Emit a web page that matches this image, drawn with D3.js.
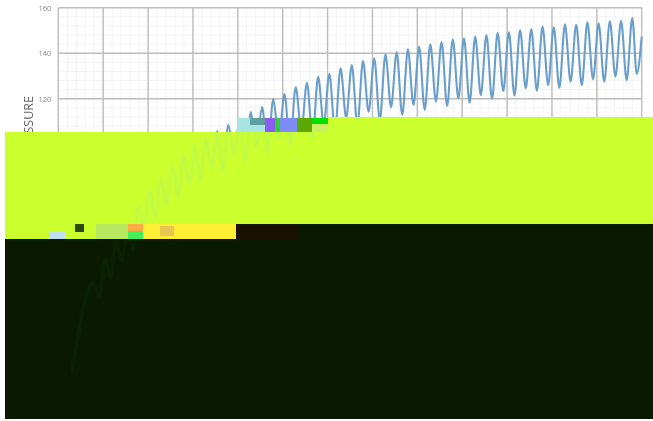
<!DOCTYPE html>
<html>
<head>
<meta charset="utf-8">
<script src="https://cdn.jsdelivr.net/npm/d3@7/dist/d3.min.js"></script>
<style>
html,body{margin:0;padding:0;background:#fff}
svg{display:block}
</style>
</head>
<body>
<svg id="chart" width="653" height="421"></svg>
<script>
// Values
const yTickValues = [0, 20, 40, 60, 80, 100, 120, 140, 160];
const xGridValues = [0, 1, 2, 3, 4, 5, 6, 7, 8, 9, 10, 11, 12, 13];
const axisTitle = "FOOT PRESSURE";

const peakTimes = [0.79,1.04,1.29,1.54,1.79,2.04,2.29,2.54,2.79,3.04,3.29,3.54,3.79,4.04,4.29,4.54,4.79,5.04,5.29,5.54,5.79,6.04,6.29,6.54,6.79,7.04,7.29,7.54,7.79,8.04,8.29,8.54,8.79,9.04,9.29,9.54,9.79,10.04,10.29,10.54,10.79,11.04,11.29,11.54,11.79,12.04,12.29,12.54,12.79];
const peakValues = [39.1,50.1,58,65,72.9,79.9,85.6,90.9,95.3,99.3,102.8,105.8,108.5,110.7,114.2,116.4,119.9,122.1,125.2,127,129.6,130.9,133.4,134.8,136.6,137.8,139.5,140.4,141.7,142.9,143.9,144.9,146.1,146.6,147.3,148,149,149.3,150.2,150.6,151.7,151.4,152.7,152.5,153.6,153.1,154,154.2,155.5];
const troughTimes = [0.915,1.165,1.415,1.665,1.915,2.165,2.415,2.665,2.915,3.165,3.415,3.665,3.915,4.165,4.415,4.665,4.915,5.165,5.415,5.665,5.915,6.165,6.415,6.665,6.915,7.165,7.415,7.665,7.915,8.165,8.415,8.665,8.915,9.165,9.415,9.665,9.915,10.165,10.415,10.665,10.915,11.165,11.415,11.665,11.915,12.165,12.415,12.665,12.89];
const troughValues = [32.5,41.3,48.3,53.6,61.5,67.6,73.4,76.9,83,83.9,89.6,88.3,95.3,92.2,98.8,95.7,102.3,99.3,105.9,102.8,108.9,105.9,111.6,108.5,114.3,110.7,116.3,112.9,117.3,115.1,118.7,116.8,120.2,118.3,121.7,119.9,123.4,121.4,124.6,123.5,126,124.8,127.5,126,128.6,127.5,129.7,128.2,130.9];
const startPoint = [0.3, 0];
const endPoint = [13, 147.3];

// Build the single trace: start, then peak/trough pairs, then end
const trace = [startPoint];
peakTimes.forEach((t, i) => {
  trace.push([t, peakValues[i]]);
  trace.push([troughTimes[i], troughValues[i]]);
});
trace.push(endPoint);

const svg = d3.select("#chart");
const x = d3.scaleLinear().domain([0, 13]).range([58.3, 641.7]);
const y = d3.scaleLinear().domain([0, 160]).range([372, 7.7]);

const chart = svg.append("g").style("filter", "blur(0.6px)");

// Minor grid
const minorX = d3.range(0, 13.001, 0.2);
const minorY = d3.range(0, 160.001, 4);
chart.append("g").selectAll("line").data(minorX).join("line")
  .attr("x1", d => x(d)).attr("x2", d => x(d))
  .attr("y1", y(160)).attr("y2", y(0))
  .attr("stroke", "#f0f0f0").attr("stroke-width", 0.8);
chart.append("g").selectAll("line").data(minorY).join("line")
  .attr("x1", x(0)).attr("x2", x(13))
  .attr("y1", d => y(d)).attr("y2", d => y(d))
  .attr("stroke", "#f0f0f0").attr("stroke-width", 0.8);

// Major grid
chart.append("g").selectAll("line").data(xGridValues).join("line")
  .attr("x1", d => x(d)).attr("x2", d => x(d))
  .attr("y1", y(160)).attr("y2", y(0))
  .attr("stroke", "#bdbdbd").attr("stroke-width", 1.4);
chart.append("g").selectAll("line").data(yTickValues).join("line")
  .attr("x1", x(0)).attr("x2", x(13))
  .attr("y1", d => y(d)).attr("y2", d => y(d))
  .attr("stroke", "#bdbdbd").attr("stroke-width", 1.4);

// Y axis
const axis = chart.append("g")
  .attr("transform", `translate(${x(0)},0)`)
  .call(d3.axisLeft(y).tickValues(yTickValues).tickSize(0).tickPadding(7));
axis.select(".domain").remove();
axis.selectAll("text")
  .attr("font-family", "'Open Sans', sans-serif")
  .attr("font-size", 7.5)
  .attr("fill", "#888888");

chart.append("text")
  .attr("transform", `translate(33,96) rotate(-90)`)
  .attr("text-anchor", "end")
  .attr("font-family", "'Open Sans', sans-serif")
  .attr("font-size", 12.5)
  .attr("fill", "#666666")
  .text(axisTitle);

// Trace
const lineGen = d3.line().x(d => x(d[0])).y(d => y(d[1])).curve(d3.curveMonotoneX);
chart.append("path").datum(trace)
  .attr("d", lineGen).attr("fill", "none")
  .attr("stroke", "#6a9fcc").attr("stroke-width", 2.1);

// The reference image is damaged across its lower part: flat colour blocks and
// noise strips hide most of the chart. These blocks reproduce that damage.
const damageBlocks = [
  [5, 132, 648, 92, "#ccff2e"], [328, 117, 325, 15, "#ccff2e"],
  [5, 224, 231, 15, "#ccff2e"],
  [236, 224, 61, 15, "#1a1200"], [297, 224, 356, 15, "#0a1a00"],
  [5, 239, 648, 180, "#0a1a00"]
];
const noiseBlocks = [
  [237, 118, 28, 14, "#a8e4e4"], [250, 118, 15, 7, "#5f9fa0"], [265, 118, 10, 14, "#8a5cf0"],
  [275, 118, 5, 14, "#30d030"], [280, 118, 17, 14, "#7f8cf5"], [297, 118, 15, 14, "#5aa800"],
  [312, 118, 16, 6, "#00e000"], [312, 124, 16, 8, "#c8f060"],
  [50, 232, 16, 7, "#bfe0ee"], [75, 224, 9, 8, "#2a4a10"],
  [96, 224, 32, 15, "#b8e860"], [128, 224, 15, 7, "#ffaa44"], [128, 231, 15, 8, "#44ee55"],
  [143, 224, 92, 15, "#ffee33"], [160, 226, 14, 10, "#e8c850"]
];
const blocks = svg.append("g");
blocks.selectAll("rect.damage").data(damageBlocks.concat(noiseBlocks)).join("rect")
  .attr("class", "damage")
  .attr("x", d => d[0]).attr("y", d => d[1]).attr("width", d => d[2]).attr("height", d => d[3])
  .attr("fill", d => d[4]);

// Faint ghosts of the chart that show through the flat blocks
const defs = svg.append("defs");
defs.append("clipPath").attr("id", "clipYellow").append("rect")
  .attr("x", 5).attr("y", 132).attr("width", 648).attr("height", 92);
defs.append("clipPath").attr("id", "clipDark").append("rect")
  .attr("x", 5).attr("y", 239).attr("width", 648).attr("height", 180);
const ghostYellow = svg.append("g").attr("clip-path", "url(#clipYellow)");
ghostYellow.append("path").datum(trace).attr("d", lineGen).attr("fill", "none")
  .attr("stroke", "#bdf84c").attr("stroke-width", 2.2).style("filter", "blur(1px)");
const ghostDark = svg.append("g").attr("clip-path", "url(#clipDark)");
ghostDark.append("path").datum(trace).attr("d", lineGen).attr("fill", "none")
  .attr("stroke", "#0b2606").attr("stroke-width", 2.2).style("filter", "blur(1px)");
</script>
</body>
</html>
